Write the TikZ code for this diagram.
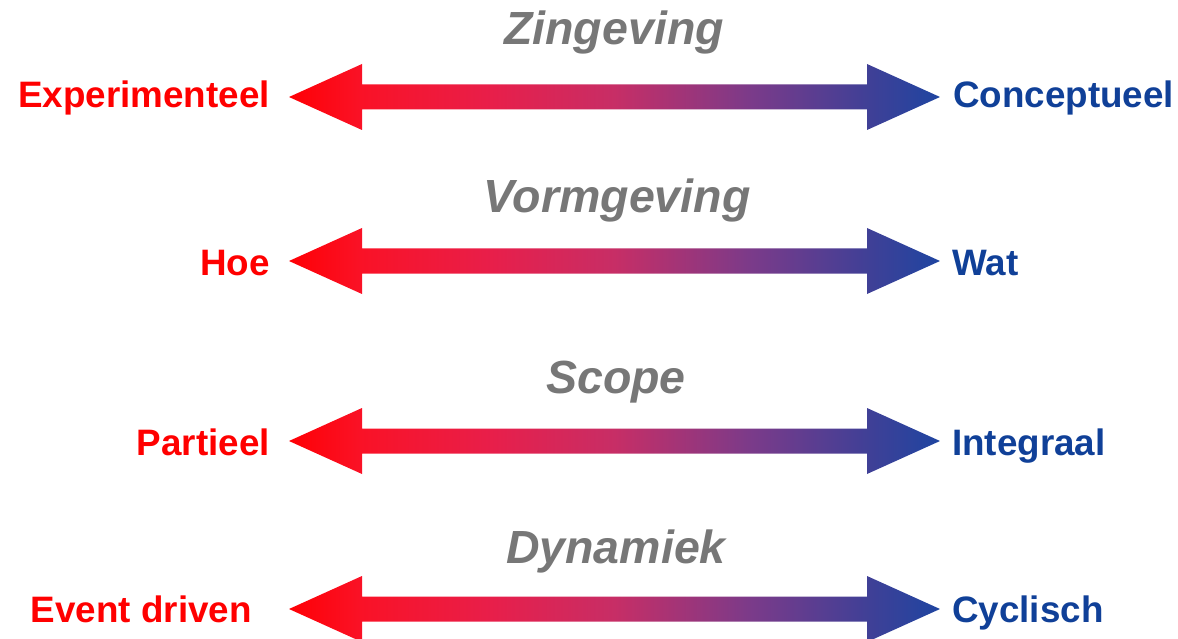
\documentclass[tikz,border=0pt]{standalone}
\usepackage{fontspec}
\setmainfont{Liberation Sans}
\definecolor{lblred}{RGB}{255,0,0}
\definecolor{lblblue}{RGB}{16,64,152}
\definecolor{ttlgrey}{RGB}{119,119,119}
\pgfdeclarehorizontalshading{redblue}{100bp}{%
  rgb(0bp)=(1,0,0.02);
  rgb(25bp)=(1,0,0.02);
  rgb(30.5bp)=(0.98,0.07,0.15);
  rgb(40.5bp)=(0.91,0.12,0.29);
  rgb(50bp)=(0.78,0.18,0.40);
  rgb(60.5bp)=(0.48,0.23,0.54);
  rgb(69.5bp)=(0.25,0.25,0.59);
  rgb(75bp)=(0.12,0.27,0.63);
  rgb(100bp)=(0.12,0.27,0.63)}
\tikzset{
  lbl/.style={inner sep=0pt, font=\fontsize{36.8}{40}\selectfont\bfseries},
  ttl/.style={inner sep=0pt, anchor=base, text=ttlgrey, font=\fontsize{46.5}{50}\selectfont\bfseries\itshape},
  gradarrow/.pic={
    \coordinate (-l) at (289,0);
    \coordinate (-r) at (940,0);
    \shade[shading=redblue] (-l) -- (362,-33) -- (362,-12.5) -- (867,-12.5) -- (867,-33)
      -- (-r) -- (867,33) -- (867,12.5) -- (362,12.5) -- (362,33) -- cycle;
  }
}
\begin{document}
\begin{tikzpicture}[x=1pt,y=-1pt]
\useasboundingbox (0,0) rectangle (1178,639);
% row 1
\node[ttl] (t1) at (614,45) {Zingeving};
\pic (a1) at (0,97) {gradarrow};
\node[lbl, text=lblred, anchor=base east] (l1) at (270,108) {Experimenteel};
\node[lbl, text=lblblue, anchor=base west] (r1) at (953,108) {Conceptueel};
% row 2
\node[ttl] (t2) at (617,213) {Vormgeving};
\pic (a2) at (0,261) {gradarrow};
\node[lbl, text=lblred, anchor=base east] (l2) at (270,275) {Hoe};
\node[lbl, text=lblblue, anchor=base west] (r2) at (952,275) {Wat};
% row 3
\node[ttl] (t3) at (616,393) {Scope};
\pic (a3) at (0,441) {gradarrow};
\node[lbl, text=lblred, anchor=base east] (l3) at (270,455) {Partieel};
\node[lbl, text=lblblue, anchor=base west] (r3) at (952,455) {Integraal};
% row 4
\node[ttl] (t4) at (616,563) {Dynamiek};
\pic (a4) at (0,609) {gradarrow};
\node[lbl, text=lblred, anchor=base east] (l4) at (252,622) {Event driven};
\node[lbl, text=lblblue, anchor=base west] (r4) at (952,622) {Cyclisch};
\end{tikzpicture}
\end{document}
